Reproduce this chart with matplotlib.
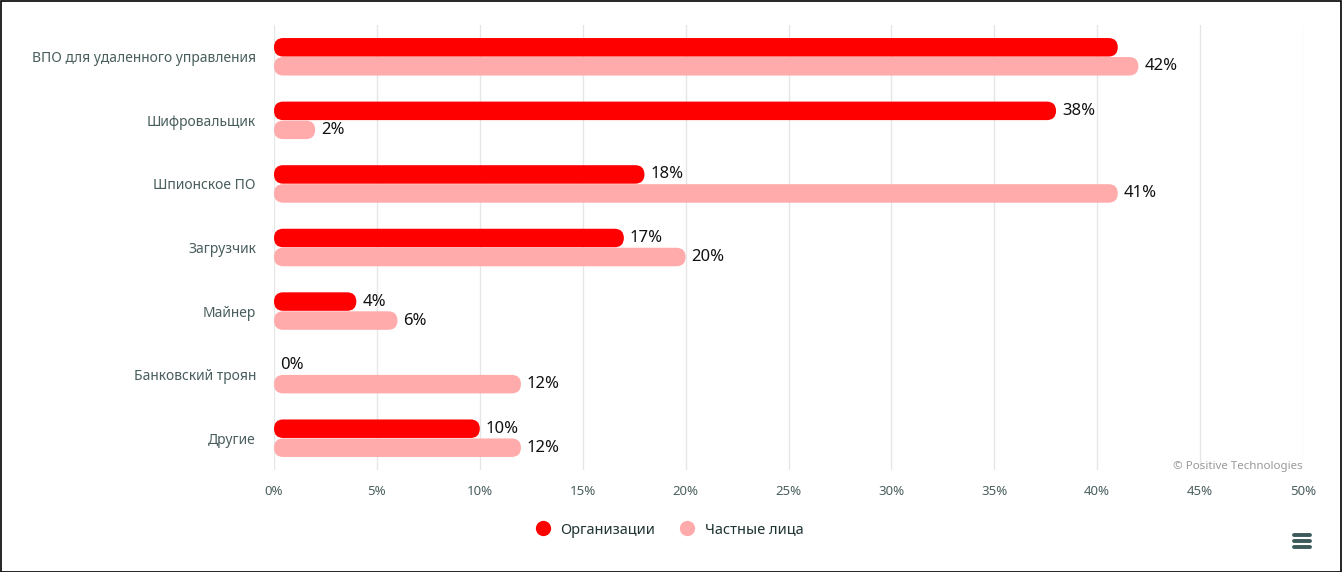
import numpy as np
import matplotlib.pyplot as plt
from matplotlib.patches import FancyBboxPatch, Rectangle
from matplotlib.lines import Line2D

categories = ['ВПО для удаленного управления', 'Шифровальщик', 'Шпионское ПО',
              'Загрузчик', 'Майнер', 'Банковский троян', 'Другие']
org_values = [41, 38, 18, 17, 4, 0, 10]
private_values = [42, 2, 41, 20, 6, 12, 12]
org_show_label = [False, True, True, True, True, True, True]
private_show_label = [True] * 7
series_names = ['Организации', 'Частные лица']
x_ticks = [0, 5, 10, 15, 20, 25, 30, 35, 40, 45, 50]

org_color = '#ff0000'
private_color = '#ffabab'
text_color = '#4a5e5e'

plt.rcParams['font.family'] = ['Noto Sans', 'DejaVu Sans']

W, H = 1342, 572
fig = plt.figure(figsize=(W / 100, H / 100), dpi=100)
ax = fig.add_axes([274 / W, 1 - 470 / H, (1303 - 274) / W, (470 - 25) / H])

ax.set_xlim(0, 50)
ax.set_ylim(6.5, -0.5)

ax_w_px = 1303 - 274
ax_h_px = 470 - 25
x_per_px = 50 / ax_w_px
y_per_px = 7 / ax_h_px

bar_h_px = 18.5
offset_px = 9.5
bar_h = bar_h_px * y_per_px
offset = offset_px * y_per_px
aspect = y_per_px / x_per_px
radius = bar_h_px / 2 * x_per_px


def rounded_bar(y_center, value, color):
    if value <= 0:
        return
    r = min(radius, value / 2)
    patch = FancyBboxPatch((0, y_center - bar_h / 2), value, bar_h,
                           boxstyle=f'round,pad=0,rounding_size={r}',
                           mutation_aspect=aspect, facecolor=color,
                           edgecolor='none', zorder=3)
    ax.add_patch(patch)


def value_label(x, y, text):
    ax.annotate(text, (x, y), xytext=(6, 0), textcoords='offset pixels',
                ha='left', va='center', fontsize=12, fontweight='bold',
                color='#111111', zorder=4)


y_pos = np.arange(len(categories))
for i in y_pos:
    rounded_bar(i - offset, org_values[i], org_color)
    rounded_bar(i + offset, private_values[i], private_color)
    if org_show_label[i]:
        value_label(org_values[i], i - offset, f'{org_values[i]}%')
    if private_show_label[i]:
        value_label(private_values[i], i + offset, f'{private_values[i]}%')

ax.set_yticks(y_pos)
ax.set_yticklabels(categories, fontsize=10, color=text_color)
ax.set_xticks(x_ticks)
ax.set_xticklabels([f'{t}%' for t in x_ticks], fontsize=9.5, color=text_color)
ax.tick_params(axis='y', length=0, pad=13)
ax.tick_params(axis='x', length=0, pad=11)
ax.grid(axis='x', color='#e6e6e6', linewidth=1, zorder=0)
ax.set_axisbelow(True)
for s in ax.spines.values():
    s.set_visible(False)

# credits
fig.text(1303 / W, 1 - 466 / H, '© Positive Technologies', ha='right',
         va='center', fontsize=8.3, color='#999999')

# legend
handles = [Line2D([], [], marker='o', linestyle='none', markersize=11,
                  markerfacecolor=c, markeredgecolor='none')
           for c in (org_color, private_color)]
fig.legend(handles, series_names, loc='center', bbox_to_anchor=(666 / W, 1 - 530 / H),
           ncol=2, frameon=False, handletextpad=0.2, columnspacing=1.2,
           prop={'size': 10.5, 'weight': 'bold'}, labelcolor='#1f3333')

# menu icon
for dy in (-6, 0, 6):
    fig.add_artist(Line2D([1294 / W, 1310 / W],
                          [1 - (541 + dy) / H, 1 - (541 + dy) / H],
                          color='#3d5a5a', linewidth=2.8,
                          solid_capstyle='round'))

# outer frame
fig.add_artist(Rectangle((0.5 / W, 0.5 / H), 1 - 1.5 / W, 1 - 1.5 / H,
                         transform=fig.transFigure, fill=False,
                         edgecolor='black', linewidth=1.2))

fig.savefig('out.png', dpi=100)
